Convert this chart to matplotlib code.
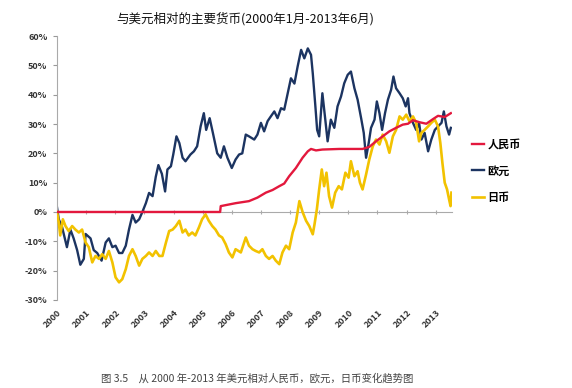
import matplotlib
matplotlib.use("Agg")
import matplotlib.pyplot as plt
from matplotlib.ticker import FuncFormatter

plt.rcParams["font.family"] = ["Noto Sans CJK SC", "DejaVu Sans"]

# values, % change vs USD, x in decimal years
eur_t = [2000.00, 2000.06, 2000.17, 2000.34, 2000.46, 2000.57, 2000.69, 2000.80, 2000.92, 2000.98,
         2001.15, 2001.26, 2001.38, 2001.53, 2001.67, 2001.78, 2001.90, 2002.01, 2002.13, 2002.24,
         2002.36, 2002.47, 2002.59, 2002.70, 2002.82, 2002.93, 2003.05, 2003.16, 2003.28, 2003.39,
         2003.48, 2003.60, 2003.71, 2003.79, 2003.91, 2003.99, 2004.10, 2004.20, 2004.31,
         2004.41, 2004.58, 2004.70, 2004.81, 2004.93, 2005.04, 2005.12, 2005.24, 2005.35, 2005.50,
         2005.62, 2005.73, 2005.85, 2006.00, 2006.13, 2006.25, 2006.36, 2006.48, 2006.59, 2006.77,
         2006.88, 2007.00, 2007.11, 2007.23, 2007.34, 2007.46, 2007.57, 2007.69, 2007.80, 2007.92,
         2008.03, 2008.15, 2008.26, 2008.38, 2008.49, 2008.61, 2008.72, 2008.78, 2008.87, 2008.93,
         2009.00, 2009.11, 2009.21, 2009.29, 2009.40, 2009.52, 2009.63, 2009.75, 2009.86, 2009.98,
         2010.09, 2010.21, 2010.32, 2010.44, 2010.53, 2010.61, 2010.70, 2010.78, 2010.90, 2010.98,
         2011.07, 2011.16, 2011.26, 2011.36, 2011.47, 2011.55, 2011.64, 2011.76, 2011.87, 2011.97,
         2012.05, 2012.10, 2012.22, 2012.33, 2012.43, 2012.51, 2012.62, 2012.74, 2012.85, 2012.97,
         2013.08, 2013.20, 2013.28, 2013.37, 2013.46, 2013.52]
eur_v = [1.5, -2.5, -5, -12, -6, -9, -13, -18, -16, -7.5,
         -9, -13, -14, -16.6, -10.4, -9, -12, -11.5, -14, -14,
         -11.5, -6, -1, -3.6, -2.5, 0, 3, 6.5, 5.4, 12,
         16, 13, 7, 14.5, 15.6, 19.6, 25.8, 23.5, 18.5,
         17.3, 19.6, 20.7, 22.4, 29.2, 33.7, 28, 32, 27, 20,
         18.5, 22.4, 18.5, 15, 17.9, 19.6, 20, 26.4, 25.8, 24.7,
         26.4, 30.4, 27.5, 31, 32.6, 34.3, 32, 35.4, 34.9, 40.5,
         45.6, 43.8, 49.6, 55.3, 52.4, 55.8, 53.6, 47.3, 36, 28,
         25.8, 40.5, 31.5, 24.1, 31.5, 28.7, 36, 39.4, 43.9, 46.8,
         47.9, 42.2, 38.3, 32, 27, 18.5, 23.5, 28.7, 31.5, 37.7,
         33.7, 28, 33.7, 38.3, 41.7, 46.2, 42.2, 40.5, 38.8, 36,
         38.8, 33.7, 30.4, 28, 30.4, 24.7, 27, 20.7, 24.7, 28,
         29.2, 30.4, 34.3, 29.2, 26.4, 28.7]

cny_t = [2000.00, 2005.60, 2005.62, 2006.13, 2006.59, 2006.88, 2007.17, 2007.40, 2007.63, 2007.80,
         2007.97, 2008.20, 2008.43, 2008.61, 2008.72, 2008.89, 2009.11, 2009.69, 2010.49, 2010.72,
         2010.95, 2011.18, 2011.41, 2011.64, 2011.87, 2012.05, 2012.22, 2012.45, 2012.68, 2012.91,
         2013.08, 2013.31, 2013.52]
cny_v = [0, 0, 2.0, 3.0, 3.7, 4.9, 6.6, 7.5, 8.8, 9.7,
         12.2, 15, 18.5, 20.7, 21.5, 21, 21.3, 21.5, 21.5, 22.2,
         24.1, 25.8, 27.5, 28.7, 29.8, 30.1, 31.3, 30.6, 30.1, 31.7,
         32.8, 32.4, 33.7]

jpy_t = [2000.00, 2000.06, 2000.11, 2000.20, 2000.29, 2000.40, 2000.52, 2000.63, 2000.75, 2000.86,
         2000.98, 2001.09, 2001.21, 2001.32, 2001.44, 2001.55, 2001.67, 2001.78, 2001.90, 2002.01,
         2002.13, 2002.24, 2002.36, 2002.47, 2002.59, 2002.70, 2002.82, 2002.93, 2003.05, 2003.16,
         2003.28, 2003.39, 2003.51, 2003.62, 2003.74, 2003.85, 2003.97, 2004.08, 2004.20, 2004.31,
         2004.41, 2004.52, 2004.64, 2004.75, 2004.87, 2004.98, 2005.10, 2005.21, 2005.33, 2005.44,
         2005.56, 2005.67, 2005.79, 2005.90, 2006.02, 2006.13, 2006.31, 2006.48, 2006.59, 2006.71,
         2006.82, 2006.94, 2007.05, 2007.17, 2007.28, 2007.40, 2007.51, 2007.63, 2007.74, 2007.86,
         2007.97, 2008.09, 2008.20, 2008.32, 2008.43, 2008.55, 2008.66, 2008.78, 2008.84, 2008.92,
         2009.00, 2009.09, 2009.17, 2009.25, 2009.34, 2009.44, 2009.55, 2009.67, 2009.78, 2009.90,
         2010.01, 2010.09, 2010.21, 2010.32, 2010.40, 2010.49, 2010.61, 2010.72, 2010.84, 2010.95,
         2011.07, 2011.18, 2011.30, 2011.41, 2011.53, 2011.64, 2011.76, 2011.87, 2011.99, 2012.10,
         2012.22, 2012.33, 2012.43, 2012.51, 2012.62, 2012.74, 2012.85, 2012.97, 2013.08, 2013.16,
         2013.23, 2013.31, 2013.39, 2013.46, 2013.51, 2013.54]
jpy_v = [0, -3.6, -8, -2.5, -4.8, -6.5, -4.8, -6, -7, -6,
         -10.4, -12, -17.2, -15, -16, -14.4, -16, -13.3, -17.2, -22.3,
         -24, -22.9, -19.5, -15, -12.7, -15, -18.3, -16, -15, -13.8,
         -15, -13.3, -15, -15, -10.4, -6.5, -6, -4.8, -3, -7,
         -6, -8, -7, -8, -5.3, -2.5, -0.8, -3, -4.8, -6,
         -8, -8.7, -11, -13.8, -15.5, -12.7, -13.8, -8.7, -11.5, -12.7,
         -13.3, -13.8, -12.7, -15, -16, -15, -16.6, -17.8, -13.8, -11.5,
         -12.7, -7, -3.6, 3.7, 0, -3, -4.8, -7.6, -4.2, 0.9,
         7.7, 14.5, 8.8, 13.4, 5.4, 1.5, 6.6, 8.8, 7.7, 13.4,
         11.7, 17.3, 12.2, 13.9, 10, 7.7, 12.8, 17.9, 22.4, 24.7,
         23, 26.4, 24.1, 20.2, 25.8, 28, 32.6, 31.5, 33.2, 30.9,
         32.6, 30.4, 24.1, 27, 28, 29.2, 30.4, 31.5, 29.2, 23.5,
         16.8, 10, 7.7, 4.3, 2, 6.6]

years = list(range(2000, 2014))
series_names = ["人民币", "欧元", "日币"]
colors = ["#e3183d", "#1c3461", "#f2c200"]

fig = plt.figure(figsize=(5.72, 3.88), dpi=100)
ax = fig.add_axes([0.0997, 0.227, 0.690, 0.680])

l_eur, = ax.plot(eur_t, eur_v, color=colors[1], lw=1.7, zorder=2)
l_jpy, = ax.plot(jpy_t, jpy_v, color=colors[2], lw=1.9, zorder=3)
l_cny, = ax.plot(cny_t, cny_v, color=colors[0], lw=1.7, zorder=4)

ax.set_xlim(2000, 2013.55)
ax.set_ylim(-30, 60)
ax.set_yticks(range(-30, 61, 10))
ax.yaxis.set_major_formatter(FuncFormatter(lambda v, _: f"{v:.0f}%"))
ax.tick_params(axis="y", labelsize=6.5, colors="#999999", labelcolor="#333333",
               length=3, width=0.8, pad=4)
for lab in ax.get_yticklabels():
    lab.set_fontweight("bold")

# horizontal axis drawn through 0%
for side in ["top", "right"]:
    ax.spines[side].set_visible(False)
ax.spines["left"].set_color("#aaaaaa")
ax.spines["bottom"].set_position(("data", 0))
ax.spines["bottom"].set_color("#aaaaaa")
ax.set_xticks(years)
ax.tick_params(axis="x", direction="inout", length=3, width=0.8, colors="#aaaaaa",
               labelbottom=False)

# year labels below the plot
sec = ax.secondary_xaxis(0)
sec.set_xticks(years)
sec.set_xticklabels([str(y) for y in years], rotation=45, ha="right",
                    rotation_mode="anchor", fontsize=6.5, fontweight="bold", color="#333333")
sec.tick_params(length=0, pad=6)
sec.spines["bottom"].set_visible(False)

fig.legend([l_cny, l_eur, l_jpy], series_names, loc="upper left",
           bbox_to_anchor=(0.815, 0.66), frameon=False, fontsize=8,
           handlelength=1.1, handletextpad=0.3, labelspacing=1.25, borderpad=0,
           prop={"weight": "bold", "size": 8})

fig.text(0.428, 0.952, "与美元相对的主要货币(2000年1月-2013年6月)", ha="center", va="center",
         fontsize=9, color="#111111")
fig.text(0.45, 0.025, "图 3.5　从 2000 年-2013 年美元相对人民币，欧元，日币变化趋势图",
         ha="center", va="center", fontsize=7.5, color="#444444")

fig.savefig("out.png", dpi=100)
